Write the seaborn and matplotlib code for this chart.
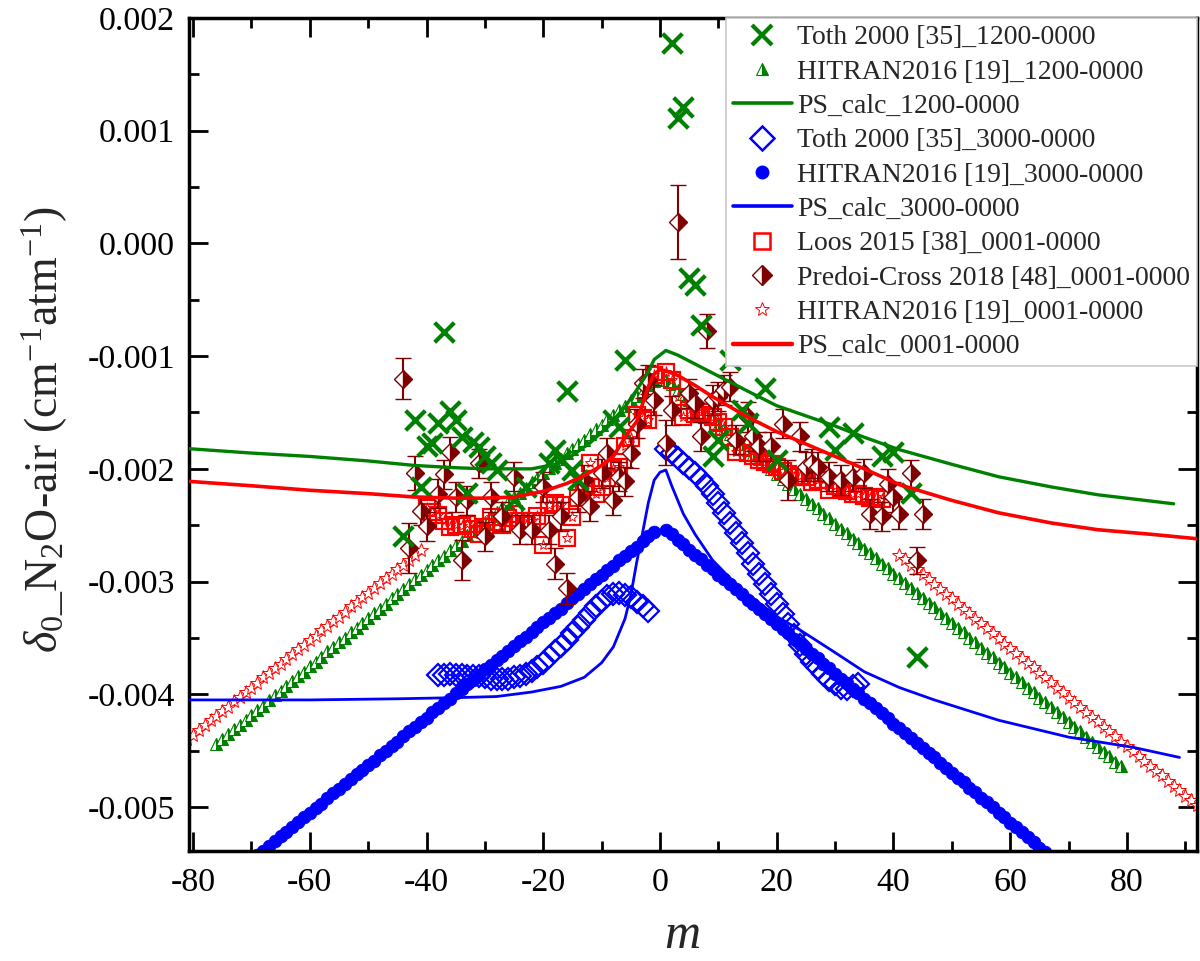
"""delta0 N2O-air line shifts vs m for three bands: measured, HITRAN2016 and PS calc."""
import matplotlib
matplotlib.use("Agg")
import matplotlib.pyplot as plt
from matplotlib.lines import Line2D
from matplotlib.ticker import MultipleLocator, FormatStrFormatter
import numpy as np
import seaborn as sns

GREEN = "#008000"
BLUE = "#0000ff"
RED = "#ff0000"
DARKRED = "#800000"

# --- Toth 2000, 1200-0000 (green crosses)
toth1200_m = [-44, -42, -41, -40, -39, -38, -37, -36, -35, -34, -33, -32, -31, -30, -29,
              -28, -25, -23, -19, -18, -17, -16, -15, -14, -8, -7, -6, 2, 3, 4, 5, 6, 7,
              9, 10, 12, 14, 15, 18, 20, 29, 30, 33, 38, 40, 43, 44]
toth1200_d = [-0.00260, -0.00157, -0.00216, -0.00180, -0.00177, -0.00159, -0.00079, -0.00149,
              -0.00157, -0.00172, -0.00221, -0.00176, -0.00181, -0.00189, -0.00195, -0.00201,
              -0.00228, -0.00216, -0.00195, -0.00183, -0.00192, -0.00131, -0.00201, -0.00210,
              -0.00157, -0.00163, -0.00103, 0.00178, 0.00111, 0.00121, -0.00031, -0.00037,
              -0.00072, -0.00189, -0.00174, -0.00103, -0.00148, -0.00159, -0.00128, -0.00192,
              -0.00163, -0.00183, -0.00168, -0.00189, -0.00185, -0.00221, -0.00367]

# --- HITRAN2016, 1200-0000 (green triangles), m = -76..-1 and 1..79
hit1200_m = list(range(-76, 0)) + list(range(1, 80))
hit1200_d = [
    -0.00444, -0.00440, -0.00435, -0.00431, -0.00427, -0.00423, -0.00418, -0.00414, -0.00410, -0.00405,
    -0.00401, -0.00397, -0.00393, -0.00388, -0.00384, -0.00380, -0.00375, -0.00371, -0.00367, -0.00362,
    -0.00358, -0.00354, -0.00350, -0.00345, -0.00341, -0.00337, -0.00332, -0.00328, -0.00324, -0.00320,
    -0.00315, -0.00311, -0.00307, -0.00302, -0.00298, -0.00294, -0.00290, -0.00285, -0.00281, -0.00277,
    -0.00272, -0.00268, -0.00264, -0.00259, -0.00255, -0.00251, -0.00247, -0.00242, -0.00238, -0.00234,
    -0.00229, -0.00225, -0.00221, -0.00217, -0.00212, -0.00208, -0.00204, -0.00199, -0.00195, -0.00191,
    -0.00186, -0.00182, -0.00178, -0.00174, -0.00169, -0.00165, -0.00161, -0.00156, -0.00152, -0.00148,
    -0.00144, -0.00139, -0.00135, -0.00131, -0.00126, -0.00122,
    -0.00121, -0.00125, -0.00130, -0.00134, -0.00139, -0.00143, -0.00147, -0.00152, -0.00156, -0.00161,
    -0.00165, -0.00169, -0.00174, -0.00178, -0.00183, -0.00187, -0.00191, -0.00196, -0.00200, -0.00205,
    -0.00209, -0.00213, -0.00218, -0.00222, -0.00227, -0.00231, -0.00235, -0.00240, -0.00244, -0.00249,
    -0.00253, -0.00257, -0.00262, -0.00266, -0.00271, -0.00275, -0.00279, -0.00284, -0.00288, -0.00293,
    -0.00297, -0.00301, -0.00306, -0.00310, -0.00315, -0.00319, -0.00323, -0.00328, -0.00332, -0.00337,
    -0.00341, -0.00345, -0.00350, -0.00354, -0.00359, -0.00363, -0.00367, -0.00372, -0.00376, -0.00381,
    -0.00385, -0.00389, -0.00394, -0.00398, -0.00403, -0.00407, -0.00411, -0.00416, -0.00420, -0.00425,
    -0.00429, -0.00433, -0.00438, -0.00442, -0.00447, -0.00451, -0.00455, -0.00460, -0.00464,
]

# --- PS calc 1200-0000
ps1200_m = [-81, -70, -60, -50, -42, -35, -30, -25, -22, -18, -15, -12, -9, -6, -4, -2, -1,
            1, 3, 6, 9, 12, 15, 20, 25, 30, 35, 41, 50, 58, 67, 75, 88]
ps1200_d = [-0.00182, -0.00186, -0.00189, -0.00193, -0.00197, -0.00199, -0.00200, -0.00200,
            -0.00200, -0.00196, -0.00188, -0.00177, -0.00163, -0.00145, -0.00130, -0.00114,
            -0.00103, -0.00095, -0.00099, -0.00107, -0.00115, -0.00123, -0.00131, -0.00144,
            -0.00153, -0.00162, -0.00172, -0.00183, -0.00196, -0.00207, -0.00216, -0.00223,
            -0.00231]

# --- Toth 2000, 3000-0000 (blue open diamonds)
toth3000_m = list(range(-38, -1)) + list(range(1, 35))
toth3000_d = [
    -0.00383, -0.00383, -0.00382, -0.00383, -0.00383, -0.00384, -0.00384, -0.00384, -0.00385, -0.00386,
    -0.00386, -0.00386, -0.00386, -0.00385, -0.00384, -0.00382, -0.00379, -0.00376, -0.00372, -0.00367,
    -0.00362, -0.00357, -0.00352, -0.00346, -0.00340, -0.00334, -0.00328, -0.00322, -0.00317, -0.00313,
    -0.00311, -0.00310, -0.00312, -0.00314, -0.00318, -0.00322, -0.00326,
    -0.00182, -0.00186, -0.00190, -0.00195, -0.00199, -0.00204, -0.00209, -0.00215, -0.00222, -0.00230,
    -0.00239, -0.00248, -0.00257, -0.00266, -0.00275, -0.00284, -0.00293, -0.00302, -0.00311, -0.00320,
    -0.00329, -0.00338, -0.00347, -0.00356, -0.00364, -0.00371, -0.00377, -0.00382, -0.00387, -0.00391,
    -0.00394, -0.00395, -0.00393, -0.00391,
]

# --- HITRAN2016, 3000-0000 (blue dots), m = -69..-1 and 1..66
hit3000_m = list(range(-69, 0)) + list(range(1, 67))
hit3000_d = [
    -0.00543, -0.00539, -0.00535, -0.00530, -0.00526, -0.00522, -0.00518, -0.00513, -0.00509, -0.00505,
    -0.00501, -0.00497, -0.00492, -0.00488, -0.00484, -0.00480, -0.00475, -0.00471, -0.00467, -0.00463,
    -0.00459, -0.00454, -0.00450, -0.00446, -0.00442, -0.00437, -0.00433, -0.00429, -0.00425, -0.00421,
    -0.00416, -0.00412, -0.00408, -0.00404, -0.00399, -0.00395, -0.00391, -0.00387, -0.00383, -0.00378,
    -0.00374, -0.00370, -0.00366, -0.00362, -0.00357, -0.00353, -0.00349, -0.00345, -0.00340, -0.00336,
    -0.00332, -0.00328, -0.00324, -0.00319, -0.00315, -0.00311, -0.00307, -0.00302, -0.00298, -0.00294,
    -0.00290, -0.00286, -0.00281, -0.00277, -0.00273, -0.00269, -0.00264, -0.00260, -0.00256,
    -0.00254, -0.00258, -0.00263, -0.00267, -0.00272, -0.00276, -0.00280, -0.00285, -0.00289, -0.00294,
    -0.00298, -0.00302, -0.00307, -0.00311, -0.00316, -0.00320, -0.00324, -0.00329, -0.00333, -0.00338,
    -0.00342, -0.00346, -0.00351, -0.00355, -0.00360, -0.00364, -0.00368, -0.00373, -0.00377, -0.00382,
    -0.00386, -0.00390, -0.00395, -0.00399, -0.00404, -0.00408, -0.00412, -0.00417, -0.00421, -0.00426,
    -0.00430, -0.00434, -0.00439, -0.00443, -0.00448, -0.00452, -0.00456, -0.00461, -0.00465, -0.00470,
    -0.00474, -0.00478, -0.00483, -0.00487, -0.00492, -0.00496, -0.00500, -0.00505, -0.00509, -0.00514,
    -0.00518, -0.00522, -0.00527, -0.00531, -0.00536, -0.00540,
]

# --- PS calc 3000-0000
ps3000_m = [-81, -60, -45, -35, -28, -22, -17, -13, -10, -8, -6, -5, -4, -3, -2, -1, 0, 1, 2,
            4, 6, 9, 12, 15, 20, 24, 30, 35, 41, 47, 58, 70, 81, 89]
ps3000_d = [-0.00405, -0.00405, -0.00404, -0.00403, -0.00402, -0.00398, -0.00393, -0.00385,
            -0.00372, -0.00358, -0.00333, -0.00312, -0.00283, -0.00257, -0.00230, -0.00210,
            -0.00203, -0.00201, -0.00215, -0.00240, -0.00258, -0.00281, -0.00297, -0.00311,
            -0.00331, -0.00343, -0.00363, -0.00380, -0.00394, -0.00405, -0.00423, -0.00438,
            -0.00447, -0.00456]

# --- Loos 2015, 0001-0000 (red open squares), m = -40..-1 and 1..38
loos_m = list(range(-40, 0)) + list(range(1, 39))
loos_d = [
    -0.00235, -0.00238, -0.00241, -0.00246, -0.00252, -0.00250, -0.00251, -0.00249, -0.00253, -0.00258,
    -0.00252, -0.00243, -0.00247, -0.00250, -0.00244, -0.00240, -0.00246, -0.00250, -0.00246, -0.00242,
    -0.00268, -0.00232, -0.00230, -0.00232, -0.00261, -0.00243, -0.00226, -0.00215, -0.00195, -0.00222,
    -0.00216, -0.00208, -0.00200, -0.00198, -0.00180, -0.00173, -0.00152, -0.00155, -0.00157, -0.00117,
    -0.00114, -0.00121, -0.00136, -0.00154, -0.00148, -0.00151, -0.00150, -0.00152, -0.00154, -0.00158,
    -0.00163, -0.00172, -0.00185, -0.00181, -0.00186, -0.00189, -0.00192, -0.00194, -0.00196, -0.00198,
    -0.00202, -0.00205, -0.00207, -0.00206, -0.00207, -0.00212, -0.00210, -0.00210, -0.00219, -0.00215,
    -0.00218, -0.00220, -0.00222, -0.00222, -0.00224, -0.00226, -0.00225, -0.00227,
]

# --- Predoi-Cross 2018, 0001-0000 (half-filled diamonds with error bars)
predoi_m = [-44, -43, -42, -41, -40, -38, -37, -36, -35, -34, -33, -31, -30, -29, -27, -25,
            -24, -22, -20, -19, -18, -17, -16, -14, -13, -12, -10, -9, -8, -7, -6, -5, -4,
            -3, -2, -1, 1, 2, 3, 5, 6, 7, 8, 9, 10, 11, 12, 13, 15, 16, 17, 19, 21, 22, 24,
            25, 26, 27, 29, 31, 33, 35, 36, 38, 39, 40, 41, 43, 44, 45]
predoi_d = [-0.00120, -0.00270, -0.00204, -0.00237, -0.00251, -0.00222, -0.00205, -0.00185,
            -0.00225, -0.00281, -0.00228, -0.00195, -0.00260, -0.00225, -0.00242, -0.00207,
            -0.00254, -0.00254, -0.00216, -0.00254, -0.00284, -0.00242, -0.00306, -0.00225,
            -0.00210, -0.00233, -0.00204, -0.00186, -0.00228, -0.00207, -0.00211, -0.00186,
            -0.00160, -0.00124, -0.00121, -0.00139, -0.00177, -0.00148, 0.00019, -0.00133,
            -0.00142, -0.00171, -0.00078, -0.00139, -0.00136, -0.00130, -0.00127, -0.00174,
            -0.00154, -0.00171, -0.00180, -0.00180, -0.00160, -0.00210, -0.00171, -0.00198,
            -0.00195, -0.00198, -0.00207, -0.00210, -0.00207, -0.00204, -0.00240, -0.00242,
            -0.00213, -0.00225, -0.00240, -0.00204, -0.00281, -0.00240]
predoi_err = [0.00018, 0.00022, 0.00015, 0.00013, 0.00013, 0.00013, 0.00013, 0.00013,
              0.00013, 0.00018, 0.00013, 0.00013, 0.00013, 0.00013, 0.00013, 0.00013,
              0.00013, 0.00013, 0.00013, 0.00013, 0.00014, 0.00013, 0.00014, 0.00013,
              0.00013, 0.00013, 0.00013, 0.00013, 0.00013, 0.00013, 0.00013, 0.00013,
              0.00013, 0.00013, 0.00013, 0.00013, 0.00020, 0.00013, 0.00033, 0.00013,
              0.00013, 0.00013, 0.00015, 0.00013, 0.00013, 0.00013, 0.00013, 0.00013,
              0.00013, 0.00013, 0.00013, 0.00013, 0.00013, 0.00018, 0.00013, 0.00013,
              0.00013, 0.00013, 0.00013, 0.00013, 0.00013, 0.00013, 0.00013, 0.00013,
              0.00013, 0.00013, 0.00013, 0.00012, 0.00012, 0.00013]

# --- HITRAN2016, 0001-0000 (red open stars), outer wings (inner part = Loos values)
hit0001_m = list(range(-81, -40)) + list(range(41, 93))
hit0001_d = [
    -0.00440, -0.00436, -0.00432, -0.00427, -0.00423, -0.00419, -0.00415, -0.00411, -0.00406, -0.00402,
    -0.00398, -0.00394, -0.00390, -0.00385, -0.00381, -0.00377, -0.00373, -0.00369, -0.00364, -0.00360,
    -0.00356, -0.00352, -0.00348, -0.00343, -0.00339, -0.00335, -0.00331, -0.00327, -0.00322, -0.00318,
    -0.00314, -0.00310, -0.00306, -0.00301, -0.00297, -0.00293, -0.00289, -0.00285, -0.00281, -0.00276,
    -0.00272,
    -0.00276, -0.00280, -0.00285, -0.00289, -0.00293, -0.00298, -0.00302, -0.00307, -0.00311, -0.00315,
    -0.00320, -0.00324, -0.00328, -0.00333, -0.00337, -0.00341, -0.00346, -0.00350, -0.00355, -0.00359,
    -0.00363, -0.00368, -0.00372, -0.00376, -0.00381, -0.00385, -0.00389, -0.00394, -0.00398, -0.00403,
    -0.00407, -0.00411, -0.00416, -0.00420, -0.00424, -0.00429, -0.00433, -0.00437, -0.00442, -0.00446,
    -0.00450, -0.00455, -0.00459, -0.00464, -0.00468, -0.00472, -0.00477, -0.00481, -0.00485, -0.00490,
    -0.00494, -0.00498,
]

# --- PS calc 0001-0000
ps0001_m = [-81, -70, -60, -50, -42, -35, -30, -25, -20, -16, -13, -10, -8, -6, -4, -2, -1, 0,
            1, 3, 6, 9, 12, 15, 20, 25, 30, 35, 41, 50, 58, 67, 75, 84, 92]
ps0001_d = [-0.00211, -0.00215, -0.00219, -0.00222, -0.00225, -0.00226, -0.00226, -0.00225,
            -0.00220, -0.00213, -0.00206, -0.00197, -0.00189, -0.00172, -0.00158, -0.00127,
            -0.00116, -0.00112, -0.00113, -0.00117, -0.00126, -0.00136, -0.00145, -0.00154,
            -0.00167, -0.00178, -0.00189, -0.00200, -0.00214, -0.00228, -0.00239, -0.00248,
            -0.00254, -0.00258, -0.00262]

sns.set_theme(style="ticks")
plt.rcParams["font.family"] = ["Liberation Serif", "DejaVu Serif"]
plt.rcParams["mathtext.fontset"] = "custom"
plt.rcParams["mathtext.rm"] = "Liberation Serif"
plt.rcParams["mathtext.it"] = "Liberation Serif:italic"
plt.rcParams["axes.unicode_minus"] = False

fig = plt.figure(figsize=(12, 9.61), dpi=100)
ax = fig.add_axes([0.1575, 0.1145, 0.84, 0.8668])

# HITRAN wings first, then measurements, calc lines on top
ax.plot(hit1200_m, hit1200_d, ls="none", marker="^", ms=8.5, fillstyle="right",
        mfc=GREEN, mfcalt="white", mec=GREEN, mew=0.8, zorder=2)
sns.scatterplot(x=hit3000_m, y=hit3000_d, ax=ax, marker="o", s=85, color=BLUE,
                edgecolor=BLUE, linewidth=0.5, legend=False, zorder=2)
ax.plot(hit0001_m, hit0001_d, ls="none", marker="*", ms=10.5, mfc="white", mec=RED, mew=0.7, zorder=2)
ax.plot(toth3000_m, toth3000_d, ls="none", marker="D", ms=11, mfc="none", mec=BLUE, mew=1.6, zorder=3)
ax.plot(loos_m, loos_d, ls="none", marker="s", ms=11, mfc="none", mec=RED, mew=1.6, zorder=3)
ax.plot(loos_m, loos_d, ls="none", marker="*", ms=8, mfc="none", mec=RED, mew=0.7, zorder=3)
ax.errorbar(predoi_m, predoi_d, yerr=predoi_err, fmt="D", ms=9, fillstyle="right",
            mfc=DARKRED, mfcalt="white", mec=DARKRED, mew=1.0, ecolor=DARKRED,
            elinewidth=1.5, capsize=6, capthick=1.5, zorder=4)
sns.scatterplot(x=toth1200_m, y=toth1200_d, ax=ax, marker="x", s=200, color=GREEN,
                linewidth=3, legend=False, zorder=5)

for m, d, c, lw in [(ps1200_m, ps1200_d, GREEN, 2.4), (ps3000_m, ps3000_d, BLUE, 2.0),
                    (ps0001_m, ps0001_d, RED, 2.6)]:
    sns.lineplot(x=m, y=d, ax=ax, color=c, linewidth=lw, sort=False, estimator=None, zorder=6)

ax.set_xlim(-80.7, 92.0)
ax.set_ylim(-0.00539, 0.002)
ax.set_xticks(np.arange(-80, 81, 20))
ax.xaxis.set_minor_locator(MultipleLocator(10))
ax.set_yticks(np.arange(-0.005, 0.0021, 0.001))
ax.yaxis.set_minor_locator(MultipleLocator(0.0005))
ax.yaxis.set_major_formatter(FormatStrFormatter("%.3f"))
ax.tick_params(which="both", direction="in", top=True, right=True, width=2, colors="black",
               labelsize=24.5)
ax.tick_params(axis="x", pad=12)
ax.tick_params(axis="y", pad=10)
ax.tick_params(which="major", length=14)
ax.tick_params(which="minor", length=7)
for s in ax.spines.values():
    s.set_linewidth(2.5)
    s.set_color("black")
ax.set_xlabel("")
ax.set_ylabel("")

fig.text(45 / 1200, 1 - 430 / 961,
         r"$\delta_{0}$_N$_2$O-air (cm$^{-1}$atm$^{-1}$)",
         rotation=90, ha="center", va="center", fontsize=33)
fig.text(682 / 1200, 2 / 961, "m", style="italic", ha="center", va="bottom", fontsize=36)

handles = [
    Line2D([], [], ls="none", marker="x", ms=14, mew=3, color=GREEN),
    Line2D([], [], ls="none", marker="^", ms=8, fillstyle="right", mfc=GREEN, mfcalt="white",
           mec=GREEN, mew=0.8),
    Line2D([], [], color=GREEN, lw=2.6),
    Line2D([], [], ls="none", marker="D", ms=12, mfc="none", mec=BLUE, mew=1.8),
    Line2D([], [], ls="none", marker="o", ms=9, color=BLUE),
    Line2D([], [], color=BLUE, lw=2.6),
    Line2D([], [], ls="none", marker="s", ms=11, mfc="none", mec=RED, mew=1.8),
    Line2D([], [], ls="none", marker="D", ms=10, fillstyle="right", mfc=DARKRED, mfcalt="white",
           mec=DARKRED, mew=1.0),
    Line2D([], [], ls="none", marker="*", ms=10, mfc="white", mec=RED, mew=0.7),
    Line2D([], [], color=RED, lw=3.2),
]
labels = ["Toth 2000 [35]_1200-0000", "HITRAN2016 [19]_1200-0000", "PS_calc_1200-0000",
          "Toth 2000 [35]_3000-0000", "HITRAN2016 [19]_3000-0000", "PS_calc_3000-0000",
          "Loos 2015 [38]_0001-0000", "Predoi-Cross 2018 [48]_0001-0000",
          "HITRAN2016 [19]_0001-0000", "PS_calc_0001-0000"]
leg = ax.legend(handles, labels, loc="upper right", bbox_to_anchor=(1, 1), borderaxespad=0,
                fontsize=20, frameon=True, fancybox=False, framealpha=1, edgecolor="#c8c8c8",
                handlelength=2.1, handletextpad=0.2, labelspacing=0.32, borderpad=0.25)
leg.get_frame().set_linewidth(1.2)
leg.set_zorder(10)

fig.savefig("out.png", dpi=100)
